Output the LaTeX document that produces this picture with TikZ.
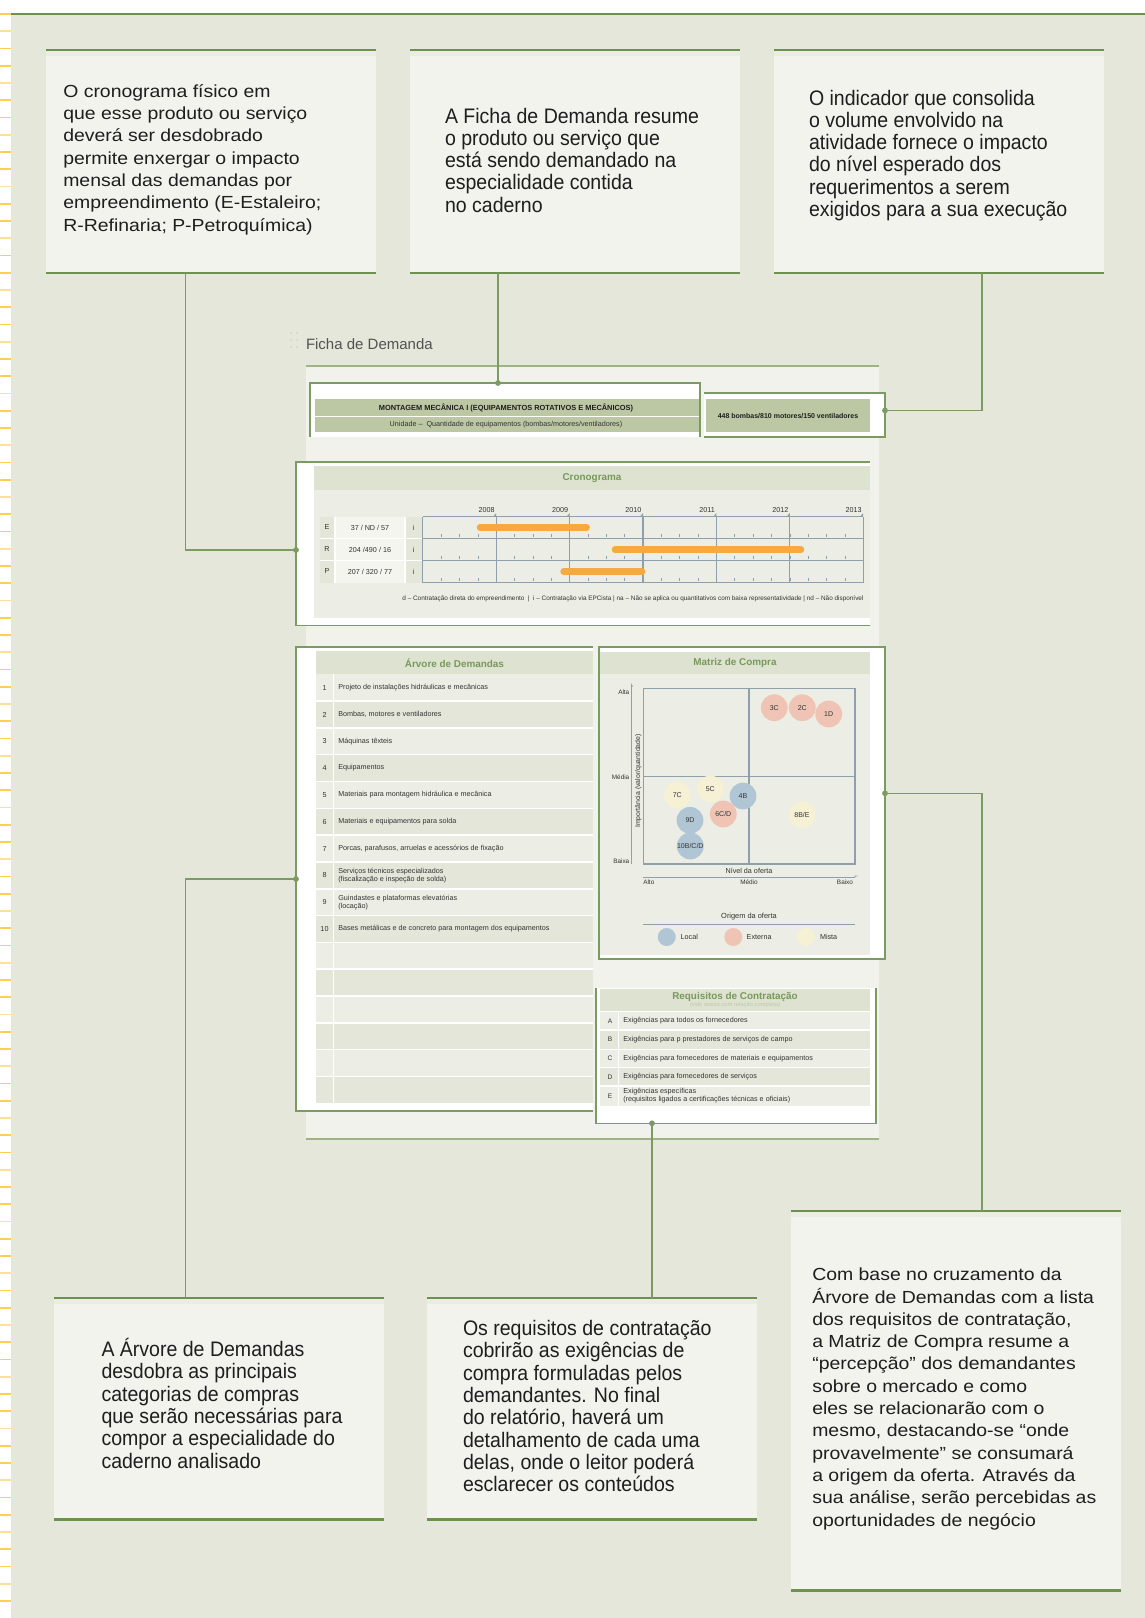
\documentclass[tikz,border=0pt]{standalone}
\usepackage{fontspec}
\setmainfont{Liberation Sans}
\newfontfamily\widef[FakeStretch=1.11]{Liberation Sans}
\newfontfamily\condf[FakeStretch=0.93]{Liberation Sans}
\usetikzlibrary{arrows.meta}
\definecolor{bg}{HTML}{E5E7DA}
\definecolor{boxfill}{HTML}{F2F3ED}
\definecolor{band}{HTML}{EBECE2}
\definecolor{gline}{HTML}{6E9150}
\definecolor{conn}{HTML}{7B9B62}
\definecolor{panel}{HTML}{F1F2EC}
\definecolor{panelline}{HTML}{9DB487}
\definecolor{hdr}{HTML}{DEE2D1}
\definecolor{hdrtxt}{HTML}{77995A}
\definecolor{rowa}{HTML}{ECEDE4}
\definecolor{rowb}{HTML}{E4E6DA}
\definecolor{cella}{HTML}{F4F5EF}
\definecolor{titlebar}{HTML}{BCC7A3}
\definecolor{barorange}{HTML}{F5A93F}
\definecolor{gridc}{HTML}{8EA0AC}
\definecolor{bblue}{HTML}{B0C6D5}
\definecolor{bred}{HTML}{F0C4B4}
\definecolor{byellow}{HTML}{F6F1D4}
\definecolor{txt}{HTML}{1E1E1E}
\definecolor{smalltxt}{HTML}{333333}
\definecolor{tickc}{HTML}{FFCF55}
\definecolor{tickpale}{HTML}{FCE09A}
\definecolor{subtxt}{HTML}{BCCBA8}
\definecolor{dotc}{HTML}{C9CDBE}
\begin{document}
\begin{tikzpicture}[x=1pt,y=-1pt,
  every node/.style={inner sep=0,outer sep=0},
  callout/.style={fill=boxfill,anchor=north west,minimum width=330,minimum height=#1},
  topline/.style={draw=gline,line width=2.2},
  connline/.style={draw=conn,line width=1.3},
  jdot/.style={circle,fill=conn,minimum size=5.8},
  wtext/.style={font=\widef\fontsize{17.5}{22.3}\selectfont,text=txt,align=left,anchor=north west},
  ctext/.style={font=\condf\fontsize{21}{22.3}\selectfont,text=txt,align=left,anchor=north west},
  frame/.style={draw=conn,line width=1.3,fill=white,anchor=north west},
  hdrtext/.style={font=\bfseries\fontsize{9.9}{11}\selectfont,text=hdrtxt},
  tiny/.style={font=\fontsize{7.2}{8.2}\selectfont,text=smalltxt},
  tinyl/.style={font=\fontsize{7.2}{8.2}\selectfont,text=smalltxt,anchor=west,align=left},
  bubble/.style={circle,minimum size=26.8,fill=#1,font=\fontsize{7}{8}\selectfont,text=smalltxt},
  legbub/.style={circle,minimum size=18,fill=#1}
]
\useasboundingbox (0,0) rectangle (1145,1618);
% background
\fill[white] (0,0) rectangle (1145,1618);
\fill[bg] (11.3,14) rectangle (1145,1618);
\draw[gline,line width=1.4] (11.3,14) -- (1145,14);
\foreach \i in {0,3,...,90}{
  \draw[tickc,line width=1.6] (0,{14+17.25*\i}) -- (11.3,{14+17.25*\i});
  \draw[tickpale,line width=1.6] (0,{14+17.25*(\i+1)}) -- (11.3,{14+17.25*(\i+1)});
  \draw[tickc,line width=1.6] (0,{14+17.25*(\i+2)}) -- (11.3,{14+17.25*(\i+2)});
}

% ---------- top callout boxes
\node[callout=217] (b1) at (46,56) {};
\node[callout=217] (b2) at (410,56) {};
\node[callout=217] (b3) at (774,56) {};
\foreach \bx in {46,410,774}{
  \fill[band] (\bx,51) rectangle (\bx+330,56);
  \draw[topline] (\bx,50) -- (\bx+330,50);
  \draw[topline] (\bx,273) -- (\bx+330,273);
}
\node[wtext] (t1) at (63.3,81.7) {\strut O cronograma físico em\\que esse produto ou serviço\\deverá ser desdobrado\\permite enxergar o impacto\\mensal das demandas por\\empreendimento (E-Estaleiro;\\R-Refinaria; P-Petroquímica)};
\node[ctext] (t2) at (445,107.4) {\strut A Ficha de Demanda resume\\o produto ou serviço que\\está sendo demandado na\\especialidade contida\\no caderno};
\node[ctext] (t3) at (809,89.4) {\strut O indicador que consolida\\o volume envolvido na\\atividade fornece o impacto\\do nível esperado dos\\requerimentos a serem\\exigidos para a sua execução};

% ---------- bottom callout boxes
\node[callout=215.5] (b4) at (54,1304) {};
\node[callout=215.5] (b5) at (427,1304) {};
\node[callout=373.5] (b6) at (791,1217) {};
\foreach \bx/\ty/\by in {54/1297.6/1519.5,427/1297.6/1519.5,791/1210.7/1590.5}{
  \fill[band] (\bx,\ty+1) rectangle (\bx+330,\ty+6.4);
  \draw[topline] (\bx,\ty) -- (\bx+330,\ty);
  \draw[topline] (\bx,\by) -- (\bx+330,\by);
}
\node[ctext] (t4) at (101.5,1338.4) {\strut A Árvore de Demandas\\desdobra as principais\\categorias de compras\\que serão necessárias para\\compor a especialidade do\\caderno analisado};
\node[ctext] (t5) at (463,1319.9) {\strut Os requisitos de contratação\\cobrirão as exigências de\\compra formuladas pelos\\demandantes. No final\\do relatório, haverá um\\detalhamento de cada uma\\delas, onde o leitor poderá\\esclarecer os conteúdos};
\node[wtext] (t6) at (812.3,1265.1) {\strut Com base no cruzamento da\\Árvore de Demandas com a lista\\dos requisitos de contratação,\\a Matriz de Compra resume a\\“percepção” dos demandantes\\sobre o mercado e como\\eles se relacionarão com o\\mesmo, destacando-se “onde\\provavelmente” se consumará\\a origem da oferta. Através da\\sua análise, serão percebidas as\\oportunidades de negócio};

% ---------- Ficha de Demanda panel
\foreach \dx in {291,297}{\foreach \dy in {333,340,347}{\fill[dotc] (\dx,\dy) circle (0.9);}}
\node[anchor=base west,font=\fontsize{15}{18}\selectfont,text=smalltxt!85] (fichalbl) at (306,349) {Ficha de Demanda};
\node[fill=panel,anchor=north west,minimum width=573,minimum height=773] (panel) at (306,366) {};
\draw[panelline,line width=1.2] (306,366) -- (879,366);
\draw[panelline,line width=1.2] (306,1139) -- (879,1139);

% title frame
\fill[white] (310,383) rectangle (700,437);
\draw[conn,line width=1.3] (310,437) -- (310,383) -- (700,383) -- (700,437);
\node[anchor=north west,minimum width=390,minimum height=54] (titleframe) at (310,383) {};
\fill[titlebar] (314.5,399) rectangle (699,416.2);
\fill[titlebar] (314.5,417.4) rectangle (699,432.3);
\node[font=\bfseries\fontsize{7.4}{8}\selectfont,text=txt] (ttl) at (506,408) {MONTAGEM MECÂNICA I (EQUIPAMENTOS ROTATIVOS E MECÂNICOS)};
\node[tiny] (unid) at (506,425) {Unidade –\ \ Quantidade de equipamentos (bombas/motores/ventiladores)};
% value frame
\fill[white] (704,393) rectangle (885,437);
\draw[conn,line width=1.3] (704,393) -- (885,393) -- (885,437) -- (704,437);
\node[anchor=north west,minimum width=181,minimum height=44] (valframe) at (704,393) {};
\fill[titlebar] (705.5,399) rectangle (870,432.3);
\node[font=\bfseries\fontsize{7}{8}\selectfont,text=txt] (val) at (788,416) {448 bombas/810 motores/150 ventiladores};

% cronograma frame
\fill[white] (296,462) rectangle (870,625.5);
\draw[conn,line width=1.3] (870,462) -- (296,462) -- (296,625.5) -- (870,625.5);
\node[anchor=north west,minimum width=574,minimum height=163.5] (cronframe) at (296,462) {};
\fill[hdr] (314,466) rectangle (870,490);
\fill[rowa] (314,490) rectangle (870,618);
\node[hdrtext] (cronh) at (592,478) {Cronograma};
% row label cells
\foreach \ya in {516.5,538.5,560.5}{
  \fill[rowb] (320,\ya) rectangle (335,\ya+22);
  \fill[cella] (335,\ya) rectangle (405,\ya+22);
  \fill[rowb] (405,\ya) rectangle (422.8,\ya+22);
}
\draw[white,line width=1.2] (320,538.5) -- (422.8,538.5) (320,560.5) -- (422.8,560.5);
\draw[white,line width=1.2] (335,516.5) -- (335,582.5) (405,516.5) -- (405,582.5);
\node[tiny] (le) at (327,527.5) {E};
\node[tiny] (lr) at (327,549.5) {R};
\node[tiny] (lp) at (327,571.5) {P};
\node[tiny] (ve) at (370,527.5) {37 / ND / 57};
\node[tiny] (vr) at (370,549.5) {204 /490 / 16};
\node[tiny] (vp) at (370,571.5) {207 / 320 / 77};
\node[tiny] (ie) at (413.5,527.5) {i};
\node[tiny] (ir) at (413.5,549.5) {i};
\node[tiny] (ip) at (413.5,571.5) {i};
% grid
\foreach \yb in {538.5,560.5,582.5}{
  \foreach \q in {1,...,23}{\draw[gridc,line width=0.6] ({422.8+18.35*\q},\yb-1.5) -- ({422.8+18.35*\q},\yb-5);}
}
\foreach \ya in {516.5,538.5,560.5,582.5}{\draw[gridc,line width=1.2] (422.8,\ya) -- (863.2,\ya);}
\foreach \k in {0,...,6}{\draw[gridc,line width=1.2] ({422.8+73.4*\k},516.5) -- ({422.8+73.4*\k},582.5);}
\foreach \k/\yr in {1/2008,2/2009,3/2010,4/2011,5/2012,6/2013}{
  \node[tiny,anchor=east] (yr\yr) at ({422.8+73.4*\k-1.5},510.5) {\yr};
  \fill[gridc] ({422.8+73.4*\k},513) -- ({422.8+73.4*\k},516.5) -- ({422.8+73.4*\k-3},516.5) -- cycle;
}
\draw[barorange,line width=6.5,line cap=round] (480,527.5) -- (586.6,527.5);
\draw[barorange,line width=6.5,line cap=round] (615,549.5) -- (801,549.5);
\draw[barorange,line width=6.5,line cap=round] (563.6,571.5) -- (642,571.5);
\node[font=\fontsize{6.4}{7}\selectfont,text=smalltxt,anchor=east] (cronleg) at (863.5,599) {d – Contratação direta do empreendimento\ \ |\ \ i – Contratação via EPCista | na – Não se aplica ou quantitativos com baixa representatividade | nd – Não disponível};

% arvore frame
\fill[white] (296,647) rectangle (593,1111);
\draw[conn,line width=1.3] (593,647) -- (296,647) -- (296,1111) -- (593,1111);
\node[anchor=north west,minimum width=297,minimum height=464] (arvframe) at (296,647) {};
\fill[hdr] (316,651) rectangle (593,674.3);
\node[hdrtext] (arvh) at (454.5,662.7) {Árvore de Demandas};
\foreach \i in {0,...,15}{
  \ifodd\i \def\rc{rowb}\else\def\rc{rowa}\fi
  \fill[\rc] (316,{674.3+26.81*\i}) rectangle (593,{674.3+26.81*(\i+1)});
}
\foreach \i in {1,...,15}{\draw[white,line width=1.5] (316,{674.3+26.81*\i}) -- (593,{674.3+26.81*\i});}
\draw[white,line width=1.5] (333.3,674.3) -- (333.3,1103.3);
\foreach \k in {1,...,10}{\node[tiny] (an\k) at (324.5,{674.3+26.81*(\k-0.5)}) {\k};}
\node[tinyl] (ar1) at (338.3,687.7) {Projeto de instalações hidráulicas e mecânicas};
\node[tinyl] (ar2) at (338.3,714.5) {Bombas, motores e ventiladores};
\node[tinyl] (ar3) at (338.3,741.3) {Máquinas têxteis};
\node[tinyl] (ar4) at (338.3,768.1) {Equipamentos};
\node[tinyl] (ar5) at (338.3,794.9) {Materiais para montagem hidráulica e mecânica};
\node[tinyl] (ar6) at (338.3,821.8) {Materiais e equipamentos para solda};
\node[tinyl] (ar7) at (338.3,848.6) {Porcas, parafusos, arruelas e acessórios de fixação};
\node[tinyl] (ar8) at (338.3,875.4) {Serviços técnicos especializados\\(fiscalização e inspeção de solda)};
\node[tinyl] (ar9) at (338.3,902.2) {Guindastes e plataformas elevatórias\\(locação)};
\node[tinyl] (ar10) at (338.3,929) {Bases metálicas e de concreto para montagem dos equipamentos};

% matriz frame
\node[frame,minimum width=286,minimum height=312] (matframe) at (599,647) {};
\fill[hdr] (600,651.7) rectangle (870,674.3);
\fill[rowa] (600,674.3) rectangle (870,955);
\node[hdrtext] (math) at (735,663) {Matriz de Compra};
\draw[gridc,line width=1.3] (643.3,688.3) rectangle (855,864);
\draw[gridc,line width=1.3] (749,688.3) -- (749,864) (643.3,776.7) -- (855,776.7);
\draw[gridc,line width=0.9] (631,864) -- (631,686);
\fill[gridc] (631,683) -- (633,686.5) -- (631,686.5) -- cycle;
\draw[gridc,line width=0.9] (643.3,877.3) -- (855,877.3);
\fill[gridc] (858,875.5) -- (854.5,877.3) -- (854.5,875.5) -- cycle;
\node[tiny,anchor=east,font=\fontsize{6.4}{7}\selectfont] (alta) at (629.3,692.7) {Alta};
\node[tiny,anchor=east,font=\fontsize{6.4}{7}\selectfont] (media) at (629.3,776.7) {Média};
\node[tiny,anchor=east,font=\fontsize{6.4}{7}\selectfont] (baixa) at (629.3,860.7) {Baixa};
\node[tiny,rotate=90,font=\fontsize{6.9}{8}\selectfont] (imp) at (638.3,781) {Importância (valor/quantidade)};
\node[tiny] (nivel) at (749,871) {Nível da oferta};
\node[tiny,anchor=west,font=\fontsize{6.4}{7}\selectfont] (alto) at (643.3,882.5) {Alto};
\node[tiny,font=\fontsize{6.4}{7}\selectfont] (medio) at (749,882.5) {Médio};
\node[tiny,anchor=east,font=\fontsize{6.4}{7}\selectfont] (baixo) at (853,882.5) {Baixo};
\node[bubble=bred] (m3c) at (774.3,707.7) {3C};
\node[bubble=bred] (m2c) at (802.3,707.7) {2C};
\node[bubble=bred] (m1d) at (828.7,714) {1D};
\node[bubble=byellow] (m7c) at (677.3,795.3) {7C};
\node[bubble=byellow] (m5c) at (710.3,789) {5C};
\node[bubble=bblue] (m4b) at (743,796) {4B};
\node[bubble=bred] (m6c) at (723.3,814) {6C/D};
\node[bubble=bblue] (m9d) at (690,820.3) {9D};
\node[bubble=byellow] (m8b) at (802,814.7) {8B/E};
\node[bubble=bblue] (m10) at (690.3,846) {10B/C/D};
\node[tiny,font=\fontsize{7.4}{8}\selectfont] (origem) at (749,916.7) {Origem da oferta};
\draw[gridc,line width=1.2] (643.3,924.3) -- (855,924.3);
\node[legbub=bblue] (lgl) at (666.7,937) {};
\node[legbub=bred] (lge) at (733.3,937) {};
\node[legbub=byellow] (lgm) at (806,937) {};
\node[tiny,anchor=west] (lgltxt) at (680.7,937) {Local};
\node[tiny,anchor=west] (lgetxt) at (746.7,937) {Externa};
\node[tiny,anchor=west] (lgmtxt) at (820,937) {Mista};

% requisitos frame
\fill[white] (596,988) rectangle (876,1123.3);
\draw[conn,line width=1.3] (596,988) -- (596,1123.3) -- (876,1123.3) -- (876,988);
\node[anchor=north west,minimum width=280,minimum height=135.3] (reqframe) at (596,988) {};
\fill[hdr] (600,989.3) rectangle (870,1011.7);
\node[hdrtext] (reqh) at (735,997) {Requisitos de Contratação};
\node[font=\fontsize{5.8}{6}\selectfont,text=subtxt] (reqsub) at (735,1005.3) {(vide anexo com relação completa)};
\fill[rowa] (600,1011.7) rectangle (870,1030);
\fill[rowb] (600,1030) rectangle (870,1049.3);
\fill[rowa] (600,1049.3) rectangle (870,1067.7);
\fill[rowb] (600,1067.7) rectangle (870,1086);
\fill[rowa] (600,1086) rectangle (870,1105.7);
\draw[white,line width=1.3] (600,1011.7) -- (870,1011.7) (600,1030) -- (870,1030) (600,1049.3) -- (870,1049.3) (600,1067.7) -- (870,1067.7) (600,1086) -- (870,1086);
\draw[white,line width=1.3] (618.3,1011.7) -- (618.3,1105.7);
\node[tiny,font=\fontsize{6.6}{7.5}\selectfont] (qa) at (610,1020.8) {A};
\node[tiny,font=\fontsize{6.6}{7.5}\selectfont] (qb) at (610,1039.6) {B};
\node[tiny,font=\fontsize{6.6}{7.5}\selectfont] (qc) at (610,1058.5) {C};
\node[tiny,font=\fontsize{6.6}{7.5}\selectfont] (qd) at (610,1076.8) {D};
\node[tiny,font=\fontsize{6.6}{7.5}\selectfont] (qe) at (610,1095.8) {E};
\node[tinyl] (ra) at (623.3,1020.8) {Exigências para todos os fornecedores};
\node[tinyl] (rb) at (623.3,1039.6) {Exigências para p prestadores de serviços de campo};
\node[tinyl] (rc) at (623.3,1058.5) {Exigências para fornecedores de materiais e equipamentos};
\node[tinyl] (rd) at (623.3,1076.8) {Exigências para fornecedores de serviços};
\node[tinyl,font=\fontsize{7.2}{7.6}\selectfont] (re) at (623.3,1095.8) {Exigências específicas\\(requisitos ligados a certificações técnicas e oficiais)};

% ---------- connectors
\coordinate (k1) at (185.5,550);
\draw[connline] (b1.south -| k1) -- (k1) -- (cronframe.west |- k1);
\node[jdot] (d1) at (cronframe.west |- k1) {};
\coordinate (k2) at (498,383);
\draw[connline] (b2.south -| k2) -- (titleframe.north -| k2);
\node[jdot] (d2) at (titleframe.north -| k2) {};
\coordinate (k3) at (982,410.5);
\draw[connline] (b3.south -| k3) -- (k3) -- (valframe.east |- k3);
\node[jdot] (d3) at (valframe.east |- k3) {};
\coordinate (k4) at (185.5,879);
\draw[connline] (b4.north -| k4) ++(0,-6.4) -- (k4) -- (arvframe.west |- k4);
\node[jdot] (d4) at (arvframe.west |- k4) {};
\coordinate (k5) at (652,1123.3);
\draw[connline] (b5.north -| k5) ++(0,-6.4) -- (reqframe.south -| k5);
\node[jdot] (d5) at (reqframe.south -| k5) {};
\coordinate (k6) at (982,793.3);
\draw[connline] (b6.north -| k6) ++(0,-6.4) -- (k6) -- (matframe.east |- k6);
\node[jdot] (d6) at (matframe.east |- k6) {};
\end{tikzpicture}
\end{document}
